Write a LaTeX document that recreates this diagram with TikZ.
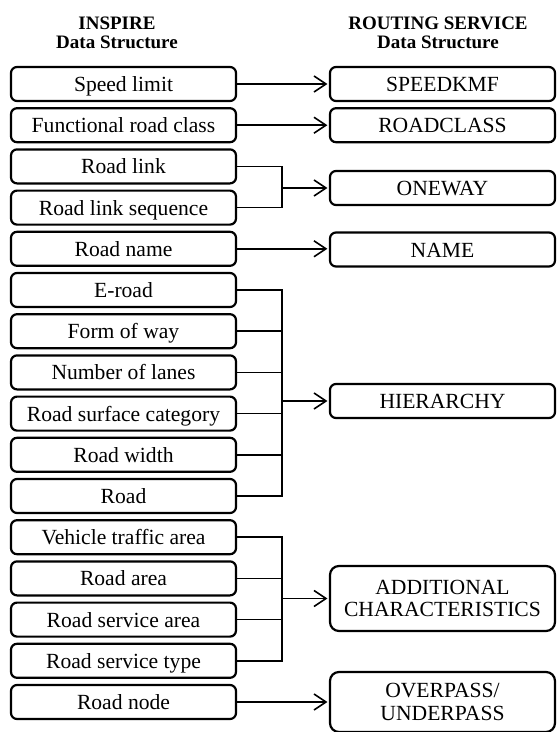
\documentclass[tikz,border=0pt]{standalone}
\usepackage{fontspec}
\setmainfont{Liberation Serif}
\usetikzlibrary{arrows.meta,calc}

\newcommand\boxfont{\fontsize{21.6}{22.5}\selectfont}
\newcommand\headfont{\fontsize{19}{19.5}\selectfont\bfseries}

\begin{document}
\begin{tikzpicture}[x=1pt, y=-1pt,
    inspire/.style={rectangle, draw=black, rounded corners=6pt, line width=2.2pt, minimum width=225pt, minimum height=34pt, text height=17pt, text depth=2pt, inner sep=0pt, font=\boxfont},
    routing/.style={inspire},
    routingtwo/.style={rectangle, draw=black, rounded corners=9pt, line width=2.2pt, minimum width=225pt, inner sep=0pt, align=center, font=\boxfont},
    head/.style={align=center, font=\headfont},
    link/.style={line width=1.6pt},
    arrow/.style={link, -{Straight Barb[length=12pt, width=16pt, line width=1.6pt]}, shorten >=1.5pt}
]
\useasboundingbox (0,0) rectangle (557,732);

% Titles
\node[head] (lefthead) at (117, 33) {INSPIRE\\Data Structure};
\node[head] (righthead) at (438, 33) {ROUTING SERVICE\\Data Structure};

% INSPIRE data structure
\node[inspire] (speedlimit) at (123.5, 84) {Speed limit};
\node[inspire] (roadclass) at (123.5, 125.2) {Functional road class};
\node[inspire] (roadlink) at (123.5, 166.4) {Road link};
\node[inspire] (linkseq) at (123.5, 207.6) {Road link sequence};
\node[inspire] (roadname) at (123.5, 248.8) {Road name};
\node[inspire] (eroad) at (123.5, 290) {E-road};
\node[inspire] (formway) at (123.5, 331.2) {Form of way};
\node[inspire] (lanes) at (123.5, 372.4) {Number of lanes};
\node[inspire] (surface) at (123.5, 413.6) {Road surface category};
\node[inspire] (roadwidth) at (123.5, 454.8) {Road width};
\node[inspire] (road) at (123.5, 496) {Road};
\node[inspire] (vehicle) at (123.5, 537.2) {Vehicle traffic area};
\node[inspire] (roadarea) at (123.5, 578.4) {Road area};
\node[inspire] (servarea) at (123.5, 619.6) {Road service area};
\node[inspire] (servtype) at (123.5, 660.8) {Road service type};
\node[inspire] (roadnode) at (123.5, 702) {Road node};

% Routing service data structure
\node[routing] (speedkmf) at (442.5, 84) {SPEEDKMF};
\node[routing] (rclass) at (442.5, 125.2) {ROADCLASS};
\node[routing] (oneway) at (442.5, 188) {ONEWAY};
\node[routing] (name) at (442.5, 249.5) {NAME};
\node[routing] (hierarchy) at (442.5, 401) {HIERARCHY};
\node[routingtwo, minimum height=65pt] (additional) at (442.5, 598.5) {ADDITIONAL\\CHARACTERISTICS};
\node[routingtwo, minimum height=60pt] (overpass) at (442.5, 702) {OVERPASS/\\UNDERPASS};

% Bus line
\coordinate (bus) at (282, 0);

% One to one
\draw[arrow] (speedlimit.east) -- (speedkmf.west);
\draw[arrow] (roadclass.east) -- (rclass.west);
\draw[arrow] (roadname.east) -- (roadname.east -| name.west);
\draw[arrow] (roadnode.east) -- (roadnode.east -| overpass.west);

% ONEWAY
\draw[link] (roadlink.east) -- (roadlink.east -| bus) -- (linkseq.east -| bus) -- (linkseq.east);
\draw[arrow] (oneway.west -| bus) -- (oneway.west);

% HIERARCHY
\draw[link] (eroad.east) -- (eroad.east -| bus) -- (road.east -| bus) -- (road.east);
\draw[link] (formway.east) -- (formway.east -| bus);
\draw[link] (lanes.east) -- (lanes.east -| bus);
\draw[link] (surface.east) -- (surface.east -| bus);
\draw[link] (roadwidth.east) -- (roadwidth.east -| bus);
\draw[arrow] (hierarchy.west -| bus) -- (hierarchy.west);

% ADDITIONAL CHARACTERISTICS
\draw[link] (vehicle.east) -- (vehicle.east -| bus) -- (servtype.east -| bus) -- (servtype.east);
\draw[link] (roadarea.east) -- (roadarea.east -| bus);
\draw[link] (servarea.east) -- (servarea.east -| bus);
\draw[arrow] (additional.west -| bus) -- (additional.west);

\end{tikzpicture}
\end{document}
